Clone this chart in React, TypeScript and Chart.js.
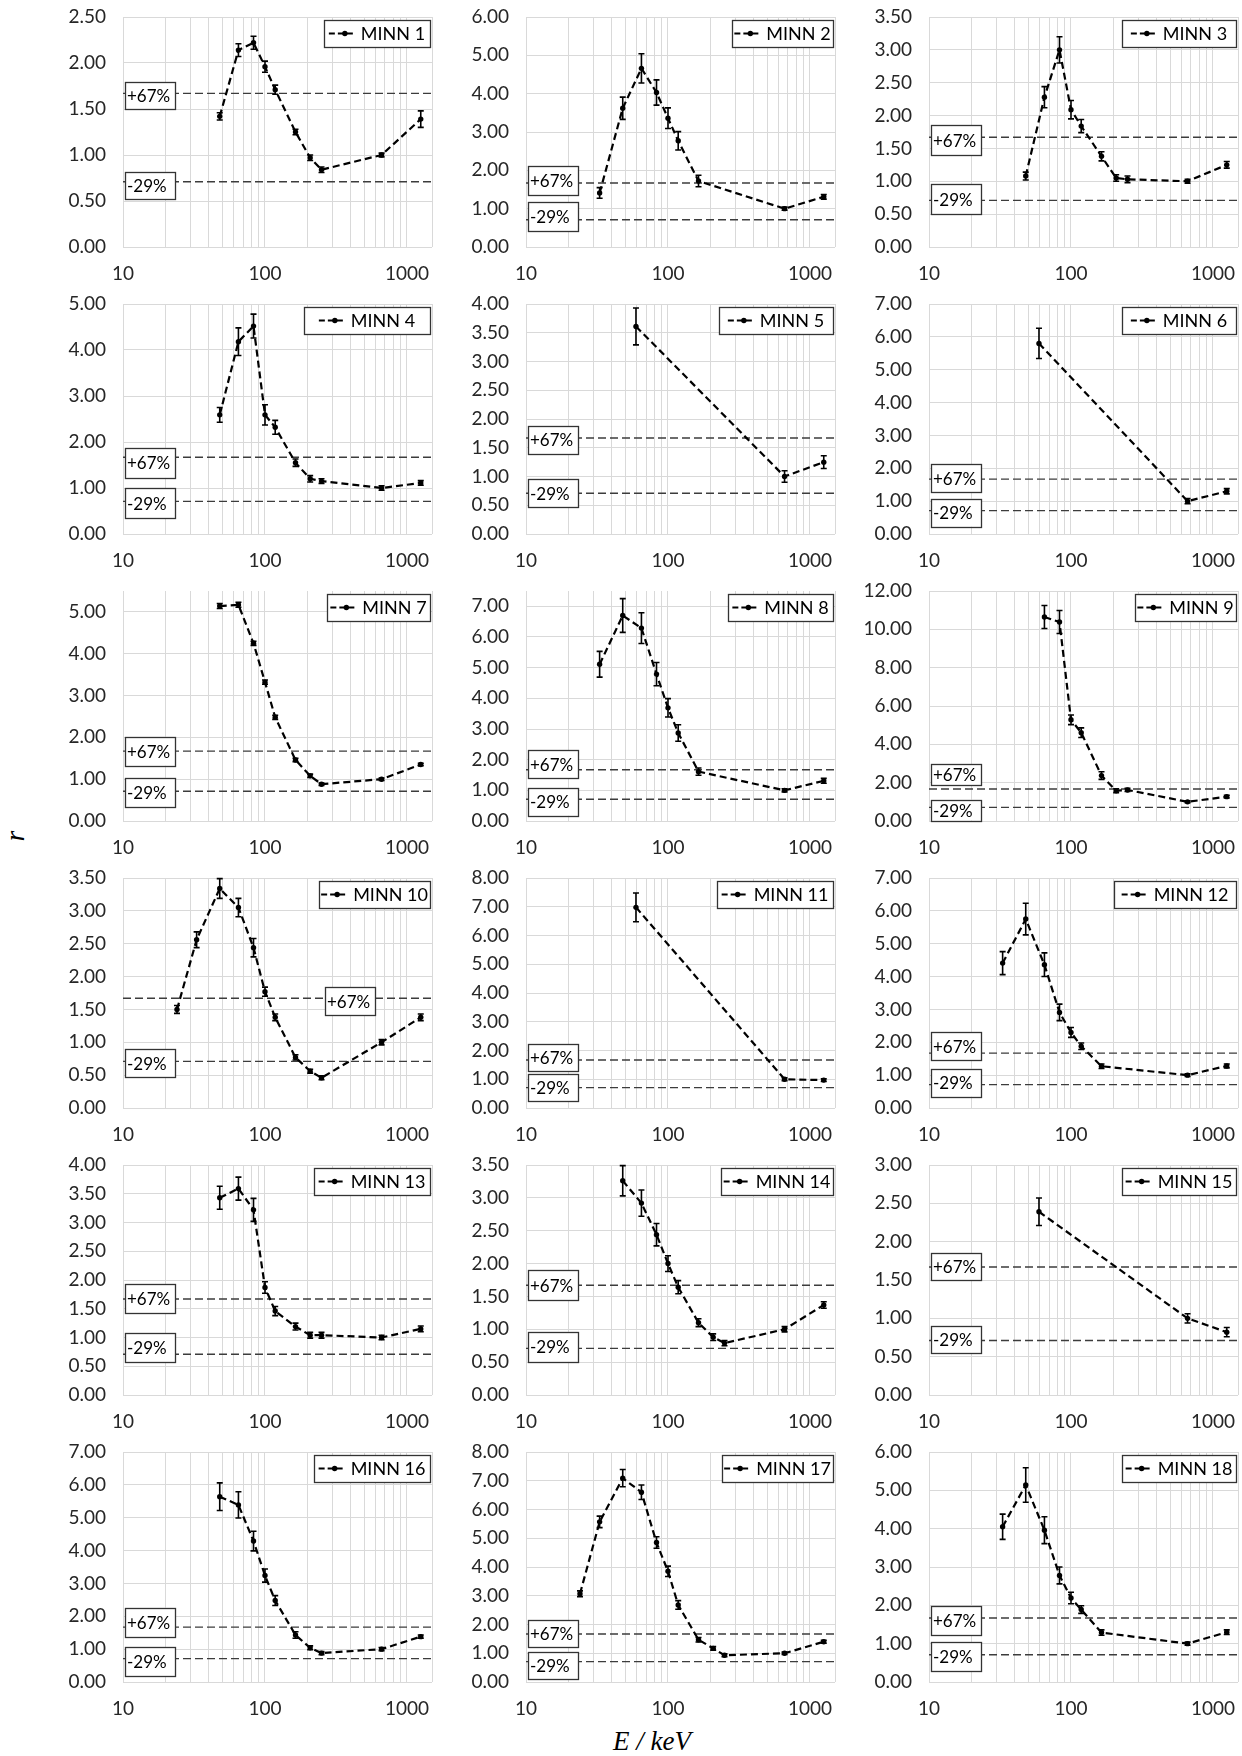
import React, { useEffect, useRef } from 'react';
import { Chart, registerables } from 'chart.js';

Chart.register(...registerables);

// ---------- DATA ----------
// photon energies (keV)
const E_N30 = [24, 33, 48, 65, 83, 100, 118, 164, 208, 250, 662, 1250];
const E_N60 = [48, 65, 83, 100, 118, 164, 208, 250, 662, 1250];
const E_N40 = [33, 48, 65, 83, 100, 118, 164, 662, 1250];
const E_N80 = [65, 83, 100, 118, 164, 208, 250, 662, 1250];
const E_AM = [59.5, 662, 1250];

// response r and its uncertainty
const R1 = [1.42, 2.14, 2.22, 1.96, 1.71, 1.25, 0.97, 0.84, 1.0, 1.39];
const U1 = [0.04, 0.07, 0.07, 0.06, 0.05, 0.03, 0.03, 0.03, 0.02, 0.09];
const R2 = [1.41, 3.62, 4.66, 4.03, 3.36, 2.77, 1.72, 1.0, 1.31];
const U2 = [0.14, 0.29, 0.38, 0.33, 0.27, 0.24, 0.15, 0.04, 0.06];
const R3 = [1.08, 2.28, 3.0, 2.09, 1.84, 1.38, 1.05, 1.03, 1.0, 1.25];
const U3 = [0.06, 0.16, 0.2, 0.14, 0.1, 0.07, 0.05, 0.05, 0.03, 0.05];
const R4 = [2.59, 4.18, 4.52, 2.59, 2.32, 1.55, 1.2, 1.15, 1.0, 1.11];
const U4 = [0.16, 0.3, 0.26, 0.22, 0.15, 0.08, 0.07, 0.05, 0.05, 0.05];
const R5 = [3.61, 1.0, 1.25];
const U5 = [0.32, 0.1, 0.11];
const R6 = [5.8, 1.0, 1.3];
const U6 = [0.46, 0.08, 0.08];
const R7 = [5.14, 5.17, 4.25, 3.32, 2.48, 1.46, 1.08, 0.88, 1.0, 1.35];
const U7 = [0.06, 0.06, 0.05, 0.05, 0.05, 0.04, 0.04, 0.03, 0.03, 0.03];
const R8 = [5.11, 6.7, 6.29, 4.79, 3.69, 2.87, 1.61, 1.0, 1.31];
const U8 = [0.42, 0.55, 0.5, 0.38, 0.3, 0.27, 0.12, 0.05, 0.08];
const R9 = [10.64, 10.38, 5.28, 4.61, 2.37, 1.58, 1.62, 1.0, 1.27];
const U9 = [0.6, 0.6, 0.25, 0.25, 0.2, 0.1, 0.08, 0.05, 0.07];
const R10 = [1.5, 2.56, 3.34, 3.05, 2.44, 1.77, 1.38, 0.77, 0.56, 0.46, 1.0, 1.38];
const U10 = [0.06, 0.12, 0.15, 0.14, 0.14, 0.07, 0.05, 0.04, 0.03, 0.03, 0.04, 0.05];
const R11 = [6.98, 1.0, 0.97];
const U11 = [0.5, 0.05, 0.05];
const R12 = [4.41, 5.75, 4.36, 2.91, 2.3, 1.88, 1.27, 1.0, 1.28];
const U12 = [0.35, 0.48, 0.36, 0.25, 0.15, 0.1, 0.07, 0.04, 0.06];
const R13 = [3.43, 3.59, 3.22, 1.87, 1.46, 1.19, 1.04, 1.04, 1.0, 1.15];
const U13 = [0.2, 0.2, 0.2, 0.1, 0.08, 0.06, 0.05, 0.05, 0.04, 0.05];
const R14 = [3.26, 2.92, 2.44, 2.0, 1.64, 1.1, 0.88, 0.79, 1.0, 1.37];
const U14 = [0.23, 0.2, 0.17, 0.12, 0.1, 0.06, 0.05, 0.04, 0.04, 0.05];
const R15 = [2.39, 1.0, 0.82];
const U15 = [0.18, 0.06, 0.06];
const R16 = [5.64, 5.39, 4.29, 3.24, 2.48, 1.43, 1.04, 0.88, 1.0, 1.38];
const U16 = [0.42, 0.4, 0.3, 0.2, 0.15, 0.1, 0.06, 0.05, 0.05, 0.05];
const R17 = [3.07, 5.57, 7.09, 6.6, 4.85, 3.85, 2.68, 1.47, 1.17, 0.93, 1.0, 1.4];
const U17 = [0.1, 0.2, 0.3, 0.25, 0.2, 0.18, 0.15, 0.08, 0.06, 0.05, 0.04, 0.05];
const R18 = [4.05, 5.14, 3.96, 2.78, 2.19, 1.89, 1.29, 1.0, 1.3];
const U18 = [0.33, 0.45, 0.35, 0.22, 0.15, 0.1, 0.07, 0.04, 0.06];

const NAMES = Array.from({ length: 18 }, (_, i) => `MINN ${i + 1}`);
const ENERGIES = [E_N60, E_N40, E_N60, E_N60, E_AM, E_AM, E_N60, E_N40, E_N80, E_N30, E_AM, E_N40, E_N60, E_N60, E_AM, E_N60, E_N30, E_N40];
const RESP = [R1, R2, R3, R4, R5, R6, R7, R8, R9, R10, R11, R12, R13, R14, R15, R16, R17, R18];
const UNC = [U1, U2, U3, U4, U5, U6, U7, U8, U9, U10, U11, U12, U13, U14, U15, U16, U17, U18];
const Y_MAX = [2.5, 6, 3.5, 5, 4, 7, 5.5, 7.5, 12, 3.5, 8, 7, 4, 3.5, 3, 7, 8, 6];
const Y_STEP = [0.5, 1, 0.5, 1, 0.5, 1, 1, 1, 2, 0.5, 1, 1, 0.5, 0.5, 0.5, 1, 1, 1];

const REF_VALUES = [1.67, 0.71];
const REF_LABELS = ['+67%', '-29%'];

const X_MIN = 10;
const X_MAX = 1500;
const X_GRID = [10, 20, 30, 40, 50, 60, 70, 80, 90, 100, 200, 300, 400, 500, 600, 700, 800, 900, 1000, 1500];
const X_LABELED = [10, 100, 1000];

// ---------- LAYOUT (positions / sizes only) ----------
const LEGEND_W = [106, 101, 114, 126, 114, 114, 103, 105, 101, 111, 116, 122, 116, 112, 114, 116, 111, 114];
const LABEL_DY = [
  [2.5, 3.7], [-2.3, -3], [3, -1],
  [5.7, 1.7], [2, 0], [-1, 2],
  [0, 1], [-5.5, 2.5], [-14.5, 2.7],
  [3, 1.7], [-2, 0], [-7, -2],
  [0, -6.5], [0, -1.5], [0, -1],
  [-5, 3], [0, 4], [3, 2],
];
const LABEL_H = [27, 29, 30, 30, 28, 28, 29, 28, 21, 28, 27, 28, 29, 30, 27, 29, 27, 29];
const LABEL_X67 = [2, 2, 2, 2, 2, 2, 2, 2, 2, 202, 2, 2, 2, 2, 2, 2, 2, 2];

const PLOT_LEFT0 = 123;
const COL_STEP = 403;
const PLOT_TOP0 = 17;
const ROW_STEP = 287;
const PLOT_W = 309;
const PLOT_H = 230;
const Y_AXIS_W = 80;
const X_AXIS_H = 40;
const PAD_TOP = 12;
const PAD_RIGHT = 4;

const FONT = 'Lato, "Open Sans", "Noto Sans", sans-serif';
const GRID_COLOR = '#d9d9d9';
const TICK_COLOR = '#262626';

function makeDecoPlugin(i: number) {
  return {
    id: 'deco' + i,
    afterDatasetsDraw(chart: any) {
      const ctx: CanvasRenderingContext2D = chart.ctx;
      const ca = chart.chartArea;
      const ys = chart.scales.y;
      ctx.save();

      // reference labels
      ctx.font = `17px ${FONT}`;
      ctx.textBaseline = 'middle';
      ctx.textAlign = 'left';
      REF_VALUES.forEach((v, k) => {
        const cy = ys.getPixelForValue(v) + LABEL_DY[i][k];
        const h = LABEL_H[i];
        const left = ca.left + (k === 0 ? LABEL_X67[i] : 2);
        const w = 50;
        ctx.fillStyle = '#ffffff';
        ctx.fillRect(left, cy - h / 2, w, h);
        ctx.strokeStyle = '#333333';
        ctx.lineWidth = 1.3;
        ctx.strokeRect(Math.round(left) + 0.5, Math.round(cy - h / 2) + 0.5, w, h);
        ctx.fillStyle = '#000';
        ctx.fillText(REF_LABELS[k], left + 2, cy + 1);
      });

      // error bars
      const meta = chart.getDatasetMeta(0);
      const r = RESP[i];
      const u = UNC[i];
      ctx.strokeStyle = '#000';
      ctx.lineWidth = 1.6;
      ctx.setLineDash([]);
      meta.data.forEach((pt: any, j: number) => {
        const x = pt.x;
        const yT = ys.getPixelForValue(r[j] + u[j]);
        const yB = ys.getPixelForValue(r[j] - u[j]);
        ctx.beginPath();
        ctx.moveTo(x, yT);
        ctx.lineTo(x, yB);
        ctx.moveTo(x - 3, yT);
        ctx.lineTo(x + 3, yT);
        ctx.moveTo(x - 3, yB);
        ctx.lineTo(x + 3, yB);
        ctx.stroke();
      });

      // legend
      const lw = LEGEND_W[i];
      const lh = 27;
      const lRight = ca.right - 2;
      const lLeft = lRight - lw;
      const lTop = ca.top + 3;
      ctx.fillStyle = '#fff';
      ctx.fillRect(lLeft, lTop, lw, lh);
      ctx.strokeStyle = '#333333';
      ctx.lineWidth = 1.3;
      ctx.strokeRect(Math.round(lLeft) + 0.5, Math.round(lTop) + 0.5, lw, lh);
      ctx.font = `18px ${FONT}`;
      const tw = ctx.measureText(NAMES[i]).width;
      const contentW = 24 + 8 + tw;
      const sx = lLeft + (lw - contentW) / 2;
      const cy = lTop + lh / 2;
      ctx.strokeStyle = '#000';
      ctx.lineWidth = 2;
      ctx.setLineDash([6, 3]);
      ctx.beginPath();
      ctx.moveTo(sx, cy);
      ctx.lineTo(sx + 24, cy);
      ctx.stroke();
      ctx.setLineDash([]);
      ctx.fillStyle = '#000';
      ctx.beginPath();
      ctx.arc(sx + 16, cy, 2.7, 0, Math.PI * 2);
      ctx.fill();
      ctx.textBaseline = 'middle';
      ctx.fillText(NAMES[i], sx + 32, cy + 1);

      ctx.restore();
    },
  };
}

function Panel({ i }: { i: number }) {
  const ref = useRef<HTMLCanvasElement>(null);
  const col = i % 3;
  const row = Math.floor(i / 3);
  const plotLeft = PLOT_LEFT0 + col * COL_STEP;
  const plotTop = PLOT_TOP0 + row * ROW_STEP;
  const W = Y_AXIS_W + PLOT_W + PAD_RIGHT;
  const H = PAD_TOP + PLOT_H + X_AXIS_H;

  useEffect(() => {
    const e = ENERGIES[i];
    const r = RESP[i];
    const step = Y_STEP[i];
    const yMax = Y_MAX[i];
    const chart = new Chart(ref.current as HTMLCanvasElement, {
      type: 'line',
      data: {
        datasets: [
          {
            data: e.map((x, j) => ({ x, y: r[j] })),
            borderColor: '#000',
            borderWidth: 2.2,
            borderDash: [7, 4],
            pointRadius: 2.7,
            pointBackgroundColor: '#000',
            pointBorderColor: '#000',
            pointBorderWidth: 0,
            tension: 0,
            fill: false,
          },
          ...REF_VALUES.map((v) => ({
            data: [
              { x: X_MIN, y: v },
              { x: X_MAX, y: v },
            ],
            borderColor: '#3c3c3c',
            borderWidth: 1.4,
            borderDash: [8, 4],
            pointRadius: 0,
            fill: false,
          })),
        ],
      },
      options: {
        animation: false,
        responsive: false,
        maintainAspectRatio: false,
        layout: { padding: { top: PAD_TOP, right: PAD_RIGHT, left: 0, bottom: 0 } },
        plugins: { legend: { display: false }, tooltip: { enabled: false } },
        scales: {
          x: {
            type: 'logarithmic',
            min: X_MIN,
            max: X_MAX,
            afterBuildTicks: (s: any) => {
              s.ticks = X_GRID.map((v) => ({ value: v }));
            },
            afterFit: (s: any) => {
              s.height = X_AXIS_H;
              s.paddingLeft = 0;
              s.paddingRight = 0;
            },
            grid: { color: GRID_COLOR, lineWidth: 1, drawTicks: false },
            border: { display: false },
            ticks: {
              autoSkip: false,
              maxRotation: 0,
              minRotation: 0,
              padding: 15,
              color: TICK_COLOR,
              font: { family: FONT, size: 19 },
              callback: (v: any) => (X_LABELED.includes(Number(v)) ? String(v) : ''),
            },
          },
          y: {
            type: 'linear',
            min: 0,
            max: yMax,
            afterBuildTicks: (s: any) => {
              const t: any[] = [];
              const n = Math.floor(yMax / step + 1e-6);
              for (let k = 0; k <= n; k++) t.push({ value: +(k * step).toFixed(6) });
              s.ticks = t;
            },
            afterFit: (s: any) => {
              s.width = Y_AXIS_W;
              s.paddingTop = 0;
              s.paddingBottom = 0;
            },
            grid: { color: GRID_COLOR, lineWidth: 1, drawTicks: false },
            border: { display: false },
            ticks: {
              padding: 17,
              color: TICK_COLOR,
              font: { family: FONT, size: 19 },
              callback: (v: any) => Number(v).toFixed(2),
            },
          },
        },
      } as any,
      plugins: [makeDecoPlugin(i)],
    } as any);
    return () => chart.destroy();
  }, [i]);

  return (
    <canvas
      ref={ref}
      width={W}
      height={H}
      style={{ position: 'absolute', left: plotLeft - Y_AXIS_W, top: plotTop - PAD_TOP, width: W, height: H }}
    />
  );
}

export default function App() {
  return (
    <div
      style={{
        position: 'absolute',
        left: 0,
        top: 0,
        width: 1242,
        height: 1756,
        background: '#ffffff',
        overflow: 'hidden',
      }}
    >
      {NAMES.map((_, i) => (
        <Panel key={i} i={i} />
      ))}
      <div
        style={{
          position: 'absolute',
          left: 0,
          top: 821,
          width: 30,
          height: 30,
          lineHeight: '30px',
          textAlign: 'center',
          fontFamily: '"Liberation Serif", "DejaVu Serif", serif',
          fontStyle: 'italic',
          fontSize: 27,
          color: '#000',
          transform: 'rotate(-90deg)',
        }}
      >
        r
      </div>
      <div
        style={{
          position: 'absolute',
          left: 552,
          width: 200,
          top: 1726,
          textAlign: 'center',
          fontFamily: '"Liberation Serif", "DejaVu Serif", serif',
          fontStyle: 'italic',
          fontSize: 27,
          lineHeight: '30px',
          color: '#000',
          whiteSpace: 'pre',
        }}
      >
        E / keV
      </div>
    </div>
  );
}
